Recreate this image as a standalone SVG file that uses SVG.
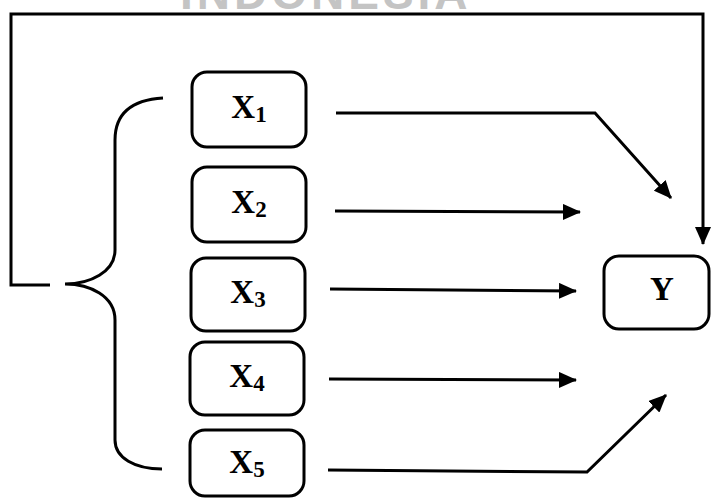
<svg xmlns="http://www.w3.org/2000/svg" width="711" height="499" viewBox="0 0 711 499">
  <defs>
    <marker id="arrow" viewBox="0 0 18 16" refX="17" refY="8" markerWidth="18" markerHeight="16" markerUnits="userSpaceOnUse" orient="auto">
      <path d="M0,0 L18,8 L0,16 Z" fill="#000"/>
    </marker>
    <style>
      .box { fill: #fff; stroke: #000; stroke-width: 3; }
      .line { fill: none; stroke: #000; stroke-width: 3; stroke-linejoin: miter; }
      .lbl { font-family: "Liberation Serif", "Times New Roman", serif; font-weight: bold; font-size: 33px; fill: #000; text-anchor: middle; }
      .sub { font-size: 23px; }
      .mark { font-family: "Liberation Sans", Arial, sans-serif; font-weight: bold; font-size: 46px; fill: #c4c4c4; }
    </style>
  </defs>
  <rect width="711" height="499" fill="#fff"/>

  <!-- faint header lettering, cut at the top edge -->
  <text class="mark" x="180" y="9" letter-spacing="4">INDONESIA</text>

  <g id="connectors">
    <!-- feedback loop from the brace back to Y -->
    <polyline class="line" points="50,285 11,285 11,14 703,14 703,244" marker-end="url(#arrow)"/>
    <!-- brace grouping X1..X5 -->
    <path class="line" d="M163,98 C130,100 115,115 115,140 L115,250 C115,272 90,284 65,284 C90,284 115,296 115,320 L115,440 C115,458 135,469 162,469"/>
    <!-- X -> Y arrows -->
    <polyline class="line" points="336,113 595,113 671,198" marker-end="url(#arrow)"/>
    <line class="line" x1="335" y1="211" x2="580" y2="212" marker-end="url(#arrow)"/>
    <line class="line" x1="330" y1="289" x2="576" y2="291" marker-end="url(#arrow)"/>
    <line class="line" x1="329" y1="379" x2="576" y2="380" marker-end="url(#arrow)"/>
    <polyline class="line" points="328,470 587,472 666,395" marker-end="url(#arrow)"/>
  </g>

  <g id="x1">
    <rect class="box" x="192" y="72" width="114" height="75" rx="15"/>
    <text class="lbl" x="249" y="118">X<tspan class="sub" dy="4">1</tspan></text>
  </g>
  <g id="x2">
    <rect class="box" x="192" y="167" width="114" height="75" rx="15"/>
    <text class="lbl" x="249" y="213">X<tspan class="sub" dy="4">2</tspan></text>
  </g>
  <g id="x3">
    <rect class="box" x="191" y="258" width="114" height="73" rx="15"/>
    <text class="lbl" x="248" y="303">X<tspan class="sub" dy="4">3</tspan></text>
  </g>
  <g id="x4">
    <rect class="box" x="190" y="342" width="114" height="73" rx="15"/>
    <text class="lbl" x="247" y="387">X<tspan class="sub" dy="4">4</tspan></text>
  </g>
  <g id="x5">
    <rect class="box" x="190" y="430" width="114" height="66" rx="15"/>
    <text class="lbl" x="247" y="473">X<tspan class="sub" dy="4">5</tspan></text>
  </g>
  <g id="y">
    <rect class="box" x="604" y="256" width="105" height="73" rx="15"/>
    <text class="lbl" x="662" y="300">Y</text>
  </g>
</svg>
